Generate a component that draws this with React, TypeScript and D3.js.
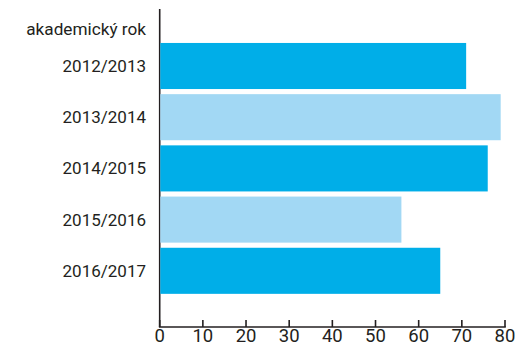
import React from "react";
import * as d3 from "d3";

const categories = ["2012/2013", "2013/2014", "2014/2015", "2015/2016", "2016/2017"];
const values = [71, 79, 76, 56, 65];
const barColors = ["#00aee8", "#a2d8f4", "#00aee8", "#a2d8f4", "#00aee8"];
const xTicks = [0, 10, 20, 30, 40, 50, 60, 70, 80];
const axisTitle = "akademický rok";

const W = 518;
const H = 347;

export default function App() {
  const x = d3.scaleLinear().domain([0, 80]).range([159.7, 505]);
  const y = d3
    .scaleBand<string>()
    .domain(categories)
    .range([40.4, 296.4])
    .paddingInner(0.1)
    .paddingOuter(0.05);
  const axisY = 327;
  const font = "Roboto, 'DejaVu Sans', sans-serif";
  const dark = "#231f20";
  return (
    <svg
      width={W}
      height={H}
      style={{ position: "absolute", left: 0, top: 0, background: "#fff" }}
      fontFamily={font}
    >
      <line x1={x(0)} x2={x(0)} y1={9} y2={axisY} stroke={dark} strokeWidth={1.6} />
      {categories.map((c, i) => (
        <rect
          key={c}
          x={x(0) + 0.6}
          y={y(c)}
          width={x(values[i]) - x(0) - 0.6}
          height={y.bandwidth()}
          fill={barColors[i]}
        />
      ))}
      {categories.map((c) => (
        <text
          key={c}
          x={146}
          y={(y(c) as number) + y.bandwidth() / 2}
          dy="0.35em"
          textAnchor="end"
          fontSize={17}
          fill={dark}
        >
          {c}
        </text>
      ))}
      <text x={146} y={29} dy="0.35em" textAnchor="end" fontSize={17.2} fill={dark}>
        {axisTitle}
      </text>
      <line x1={x(0) - 0.8} x2={x(80) + 0.8} y1={axisY} y2={axisY} stroke={dark} strokeWidth={1.6} />
      {xTicks.map((t) => (
        <g key={t}>
          <line x1={x(t)} x2={x(t)} y1={axisY} y2={axisY - 7} stroke={dark} strokeWidth={1.6} />
          <text x={x(t)} y={342} textAnchor="middle" fontSize={18.5} fill={dark}>
            {t}
          </text>
        </g>
      ))}
    </svg>
  );
}
